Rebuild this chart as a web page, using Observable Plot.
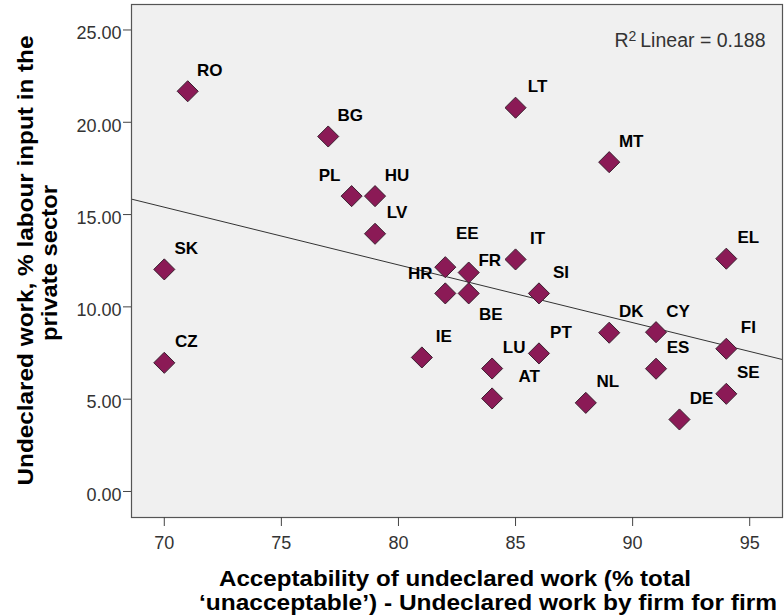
<!DOCTYPE html>
<html>
<head>
<meta charset="utf-8">
<script src="https://cdn.jsdelivr.net/npm/d3@7"></script>
<script src="https://cdn.jsdelivr.net/npm/@observablehq/plot@0.6"></script>
<style>
  html, body { margin: 0; padding: 0; background: #fff; }
  #chart svg { display: block; }
</style>
</head>
<body>
<div id="chart"></div>
<script>
// ---- data ----
const countries = ["RO","BG","PL","HU","LV","SK","CZ","LT","MT","EE","FR","HR","BE","IT","SI","EL","IE","LU","AT","PT","NL","DK","CY","ES","FI","SE","DE"];
const acceptability = [71,77,78,79,79,70,70,85,89,82,83,82,83,85,86,94,81,84,84,86,88,89,91,91,94,94,92];
const undeclared = [21.68,19.23,16.0,16.0,13.96,12.03,6.97,20.79,17.84,12.15,11.86,10.73,10.73,12.57,10.73,12.61,7.26,6.66,5.04,7.48,4.80,8.60,8.63,6.65,7.73,5.29,3.90];
const xTicks = [70,75,80,85,90,95];
const yTicks = [0,5,10,15,20,25];
const r2Value = "0.188";
const xTitleLines = ["Acceptability of undeclared work (% total", "\u2018unacceptable\u2019) - Undeclared work by firm for firm"];
const yTitleLines = ["Undeclared work, % labour input in the", "private sector"];

// ---- layout (label placement, not data) ----
const defaultOffset = [22, -21];
const labelOffsets = { PL: [-22, -21], HR: [-25, -20], EE: [22, -34], FR: [21, -12], BE: [22, 21], AT: [37, -22] };

const points = countries.map((c, i) => ({
  country: c, x: acceptability[i], y: undeclared[i],
  dx: (labelOffsets[c] || defaultOffset)[0], dy: (labelOffsets[c] || defaultOffset)[1]
}));

// linear fit
const mx = d3.mean(points, d => d.x), my = d3.mean(points, d => d.y);
const slope = d3.sum(points, d => (d.x - mx) * (d.y - my)) / d3.sum(points, d => (d.x - mx) ** 2);
const intercept = my - slope * mx;
const xDomain = [68.6, 96.4];
const yDomain = [-1.41, 26.38];
const fit = xDomain.map(x => ({ x, y: intercept + slope * x }));

const font = "Liberation Sans, Arial, sans-serif";

const labelMarks = points.map(p => Plot.text([p], { x: "x", y: "y", text: "country", dx: p.dx, dy: p.dy,
  fontSize: 17, fontWeight: "bold", fill: "#000", textAnchor: "middle", lineAnchor: "middle" }));

const titleStyle = { fontSize: 22, fontWeight: "bold", fill: "#000", textAnchor: "middle", lineAnchor: "middle" };

const chart = Plot.plot({
  width: 784, height: 615,
  marginLeft: 131, marginRight: 2, marginTop: 4, marginBottom: 98,
  style: { fontFamily: font, background: "#fff", overflow: "visible" },
  x: { domain: xDomain, ticks: xTicks, tickFormat: d => String(d), label: null },
  y: { domain: yDomain, ticks: yTicks, tickFormat: d3.format(".2f"), label: null },
  marks: [
    Plot.frame({ fill: "#f0f0f0", stroke: "none" }),
    Plot.line(fit, { x: "x", y: "y", stroke: "#333", strokeWidth: 1 }),
    Plot.dot(points, { x: "x", y: "y", symbol: "diamond2", r: 9.5, fill: "#8b1a56", stroke: "#3a2030", strokeWidth: 1 }),
    ...labelMarks,
    Plot.text([r2Value], { frameAnchor: "top-right", dx: -17, dy: 36.5, text: d => "R2 Linear = " + d,
      fontSize: 19.5, fill: "#333", textAnchor: "end", lineAnchor: "middle", className: "r2label" }),
    Plot.frame({ stroke: "#555", strokeWidth: 1.2 }),
    Plot.axisX({ ticks: xTicks, tickSize: 9, tickPadding: 10, fontSize: 18, fill: "#333", stroke: "#444", label: null, tickFormat: d => String(d) }),
    Plot.axisY({ ticks: yTicks, tickSize: 8, tickFormat: () => "", stroke: "#444", label: null }),
    Plot.axisY({ ticks: yTicks, tickSize: 0, tickPadding: 10, dy: 3.5, fontSize: 18, fill: "#333", label: null, tickFormat: d3.format(".2f") }),
    Plot.text([xTitleLines[0]], { frameAnchor: "bottom", dx: -2, dy: 61, text: d => d, ...titleStyle, className: "xt1" }),
    Plot.text([xTitleLines[1]], { frameAnchor: "bottom", dx: 31, dy: 85, text: d => d, ...titleStyle, className: "xt2" }),
    Plot.text([yTitleLines[0]], { frameAnchor: "left", dx: -105.5, dy: -0.5, rotate: -90, text: d => d, ...titleStyle, className: "yt1" }),
    Plot.text([yTitleLines[1]], { frameAnchor: "left", dx: -81.5, dy: 2, rotate: -90, text: d => d, ...titleStyle, className: "yt2" })
  ]
});

// stretch title glyphs horizontally like the reference rendering
const svg = d3.select(chart);
[["xt1", 472], ["xt2", 578], ["yt1", 450], ["yt2", 156]].forEach(([cls, len]) => {
  svg.selectAll(`g.${cls} text`).attr("textLength", len).attr("lengthAdjust", "spacingAndGlyphs");
});
// superscript in the R² label
svg.selectAll("g.r2label text").each(function () {
  const t = d3.select(this);
  const txt = t.text();
  t.text(null);
  t.append("tspan").text("R");
  t.append("tspan").attr("dy", "-0.42em").attr("font-size", 14).text("2");
  t.append("tspan").attr("dy", "0.42em").attr("font-size", 14).text(" ").append("tspan");
  t.append("tspan").attr("font-size", 19.5).text("Linear = " + txt.replace("R2 Linear = ", ""));
});
document.getElementById("chart").appendChild(chart);
</script>
</body>
</html>
